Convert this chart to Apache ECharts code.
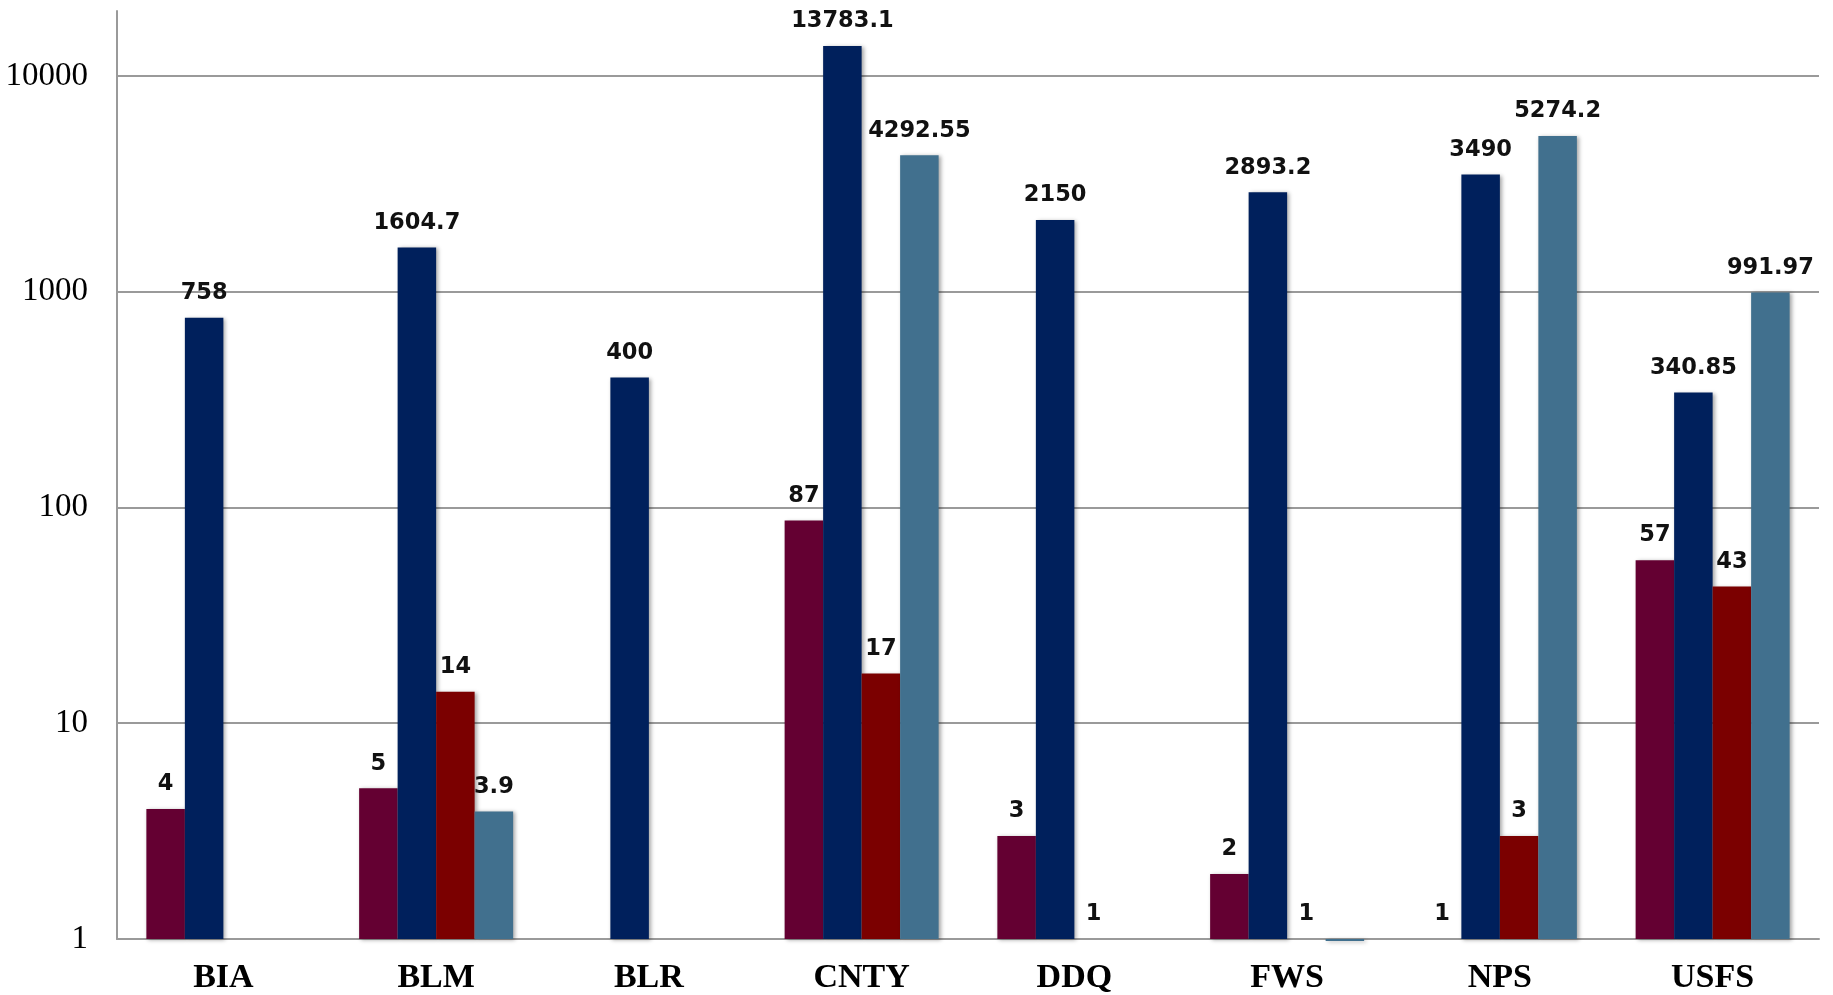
<!DOCTYPE html>
<html><head><meta charset="utf-8">
<script src="https://cdn.jsdelivr.net/npm/echarts@6/dist/echarts.min.js"></script>
<style>html,body{margin:0;padding:0;background:#fff}#c{width:1833px;height:995px}</style>
</head><body><div id="c"></div>
<script>
const categories = ['BIA','BLM','BLR','CNTY','DDQ','FWS','NPS','USFS'];
const series1 = [4, 5, null, 87, 3, 2, 1, 57];
const series2 = [758, 1604.7, 400, 13783.1, 2150, 2893.2, 3490, 340.85];
const series3 = [null, 14, null, 17, 1, 1, 3, 43];
const series4 = [null, 3.9, null, 4292.55, null, 0.98, 5274.2, 991.97];
const hiddenLabels4 = [5];
const colors = ['#640032', '#00205c', '#7b0000', '#41708e'];

const labelStyle = {show: true, position: 'top', distance: 13, fontFamily: 'DejaVu Sans', fontWeight: 'bold', fontSize: 22.5, color: '#111'};
function mk(data, color, hide) {
  return {
    type: 'bar', barWidth: 38.5, barGap: '0%', clip: false,
    data: data.map((v, i) => (v == null ? '-' : (hide && hide.includes(i) ? {value: v, label: {show: false}} : v))),
    itemStyle: {color: color, shadowColor: 'rgba(0,0,0,0.35)', shadowBlur: 4, shadowOffsetX: 2, shadowOffsetY: 1},
    label: labelStyle
  };
}
const chart = echarts.init(document.getElementById('c'), null, {renderer: 'canvas'});
chart.setOption({
  animation: false,
  backgroundColor: '#fff',
  grid: {left: 117, right: 14, top: 11, bottom: 56, containLabel: false},
  xAxis: {
    type: 'category', data: categories,
    axisLine: {show: true, lineStyle: {color: '#9a9a9a', width: 2}},
    axisTick: {show: false},
    axisLabel: {fontFamily: 'Liberation Serif', fontWeight: 'bold', fontSize: 34, color: '#000', margin: 22}
  },
  yAxis: {
    type: 'log', logBase: 10, min: 1, max: 20000,
    axisLine: {show: true, lineStyle: {color: '#9a9a9a', width: 2}},
    axisTick: {show: false},
    splitLine: {show: true, showMaxLine: false, lineStyle: {color: '#9a9a9a', width: 2}},
    axisLabel: {fontFamily: 'Liberation Serif', fontSize: 33, color: '#000', margin: 29, showMaxLabel: false,
      formatter: v => String(Math.round(v))}
  },
  series: [mk(series1, colors[0]), mk(series2, colors[1]), mk(series3, colors[2]), mk(series4, colors[3], hiddenLabels4)]
});
</script></body></html>
